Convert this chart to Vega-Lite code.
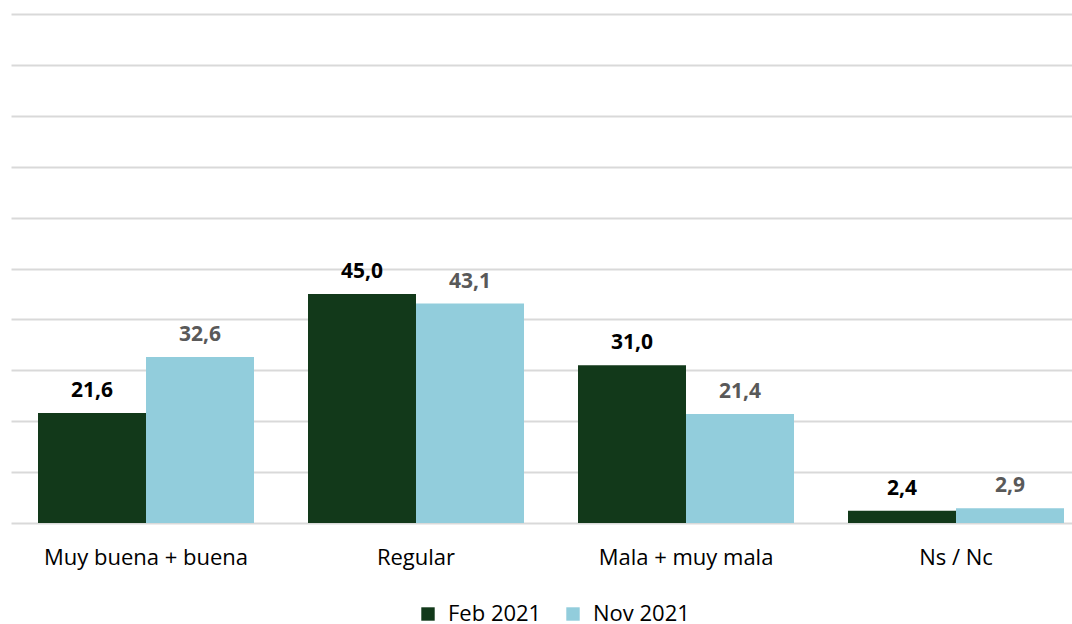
{
  "$schema": "https://vega.github.io/schema/vega-lite/v6.json",
  "autosize": {"type": "none"},
  "width": 1061,
  "height": 509,
  "padding": {"left": 11, "top": 14, "right": 0, "bottom": 101},
  "background": "white",
  "config": {
    "view": {"stroke": null},
    "font": "Open Sans",
    "locale": {"number": {"decimal": ",", "thousands": ".", "grouping": [3], "currency": ["", " €"]}}
  },
  "data": {
    "values": [
      {"cat": "Muy buena + buena", "series": "Feb 2021", "value": 21.6},
      {"cat": "Muy buena + buena", "series": "Nov 2021", "value": 32.6},
      {"cat": "Regular", "series": "Feb 2021", "value": 45.0},
      {"cat": "Regular", "series": "Nov 2021", "value": 43.1},
      {"cat": "Mala + muy mala", "series": "Feb 2021", "value": 31.0},
      {"cat": "Mala + muy mala", "series": "Nov 2021", "value": 21.4},
      {"cat": "Ns / Nc", "series": "Feb 2021", "value": 2.4},
      {"cat": "Ns / Nc", "series": "Nov 2021", "value": 2.9}
    ]
  },
  "encoding": {
    "x": {
      "field": "cat", "type": "nominal", "sort": null,
      "scale": {"paddingInner": 0.2, "paddingOuter": 0.1, "range": [0, 1080]},
      "axis": {"title": null, "labelAngle": 0, "domain": false, "ticks": false, "labelPadding": 24, "labelFontSize": 22, "labelColor": "#000000", "labelFont": "Open Sans", "labelOverlap": false, "labelBound": false, "labelLimit": 0}
    },
    "xOffset": {"field": "series", "type": "nominal", "sort": ["Feb 2021", "Nov 2021"], "scale": {"paddingInner": 0, "paddingOuter": 0}},
    "y": {
      "field": "value", "type": "quantitative",
      "scale": {"domain": [0, 100], "nice": false},
      "axis": {"title": null, "labels": false, "ticks": false, "domain": false, "values": [0,10,20,30,40,50,60,70,80,90,100], "gridColor": "#d9d9d9", "gridWidth": 2}
    }
  },
  "layer": [
    {
      "mark": {"type": "bar"},
      "encoding": {
        "color": {
          "field": "series", "type": "nominal",
          "scale": {"domain": ["Feb 2021", "Nov 2021"], "range": ["#12391a", "#92cddc"]},
          "legend": {
            "title": null, "orient": "none", "direction": "horizontal",
            "legendX": 406, "legendY": 589,
            "symbolType": "square", "symbolSize": 180, "symbolStrokeWidth": 0,
            "labelFontSize": 22, "labelColor": "#000000", "labelFont": "Open Sans", "labelLimit": 0,
            "columnPadding": 20, "labelOffset": 9
          }
        }
      }
    },
    {
      "mark": {"type": "text", "dy": -16, "baseline": "alphabetic", "fontSize": 21, "fontWeight": "bold", "font": "Open Sans"},
      "encoding": {
        "text": {"field": "value", "type": "quantitative", "format": ".1f"},
        "color": {"condition": {"test": "datum.series === 'Feb 2021'", "value": "#000000"}, "value": "#595959"}
      }
    }
  ]
}
